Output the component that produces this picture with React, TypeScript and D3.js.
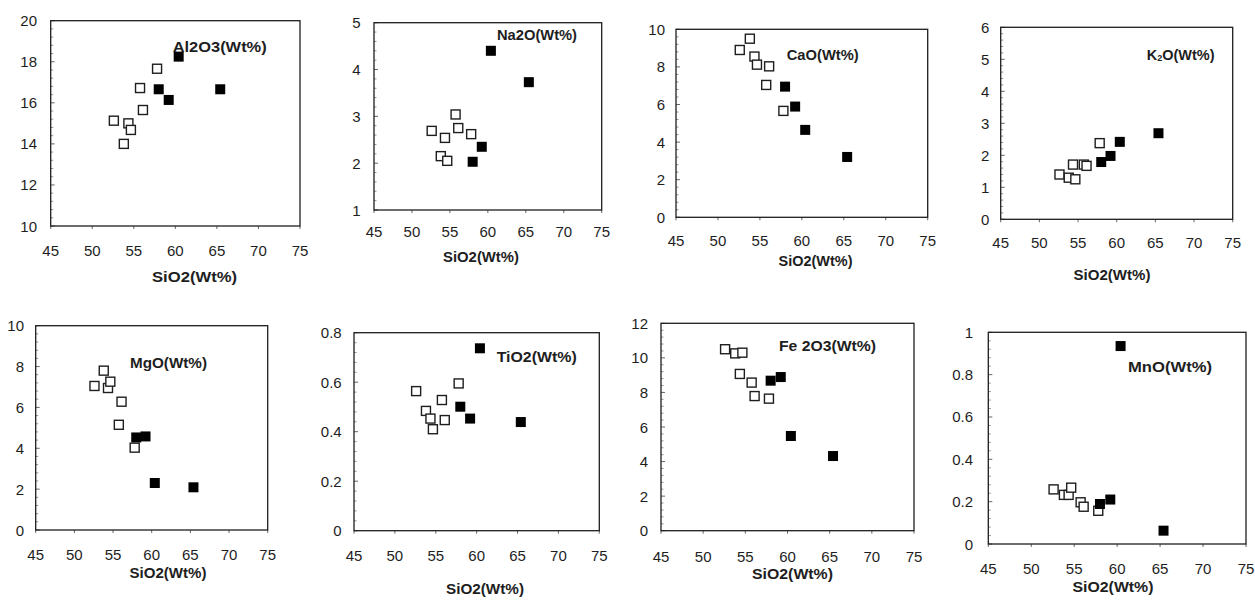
import React from "react";
import * as d3 from "d3";

// SiO2 content of the two sample groups (shared by every panel)
const siO2Open = [52.6, 53.8, 54.35, 54.65, 55.75, 56.1, 57.8];
const siO2Filled = [58.0, 59.2, 60.4, 65.4];

// oxide contents, same order as the SiO2 arrays
const al2o3Open = [15.13, 14.0, 15.0, 14.68, 16.72, 15.65, 17.66];
const al2o3Filled = [16.66, 16.14, 18.25, 16.66];
const na2oOpen = [2.69, 2.15, 2.54, 2.05, 3.04, 2.75, 2.62];
const na2oFilled = [2.03, 2.35, 4.4, 3.73];
const caoOpen = [8.9, 9.5, 8.55, 8.12, 7.04, 8.03, 5.66];
const caoFilled = [6.95, 5.89, 4.65, 3.21];
const k2oOpen = [1.4, 1.3, 1.71, 1.25, 1.71, 1.67, 2.38];
const k2oFilled = [1.79, 1.98, 2.42, 2.69];
const mgoOpen = [7.05, 7.8, 6.95, 7.26, 5.15, 6.28, 4.03];
const mgoFilled = [4.53, 4.58, 2.3, 2.09];
const tio2Open = [0.564, 0.484, 0.453, 0.41, 0.528, 0.447, 0.595];
const tio2Filled = [0.501, 0.453, 0.737, 0.439];
const fe2o3Open = [10.5, 10.26, 9.07, 10.3, 8.57, 7.79, 7.64];
const fe2o3Filled = [8.68, 8.89, 5.48, 4.32];
const mnoOpen = [0.258, 0.232, 0.232, 0.266, 0.197, 0.176, 0.157];
const mnoFilled = [0.189, 0.21, 0.935, 0.063];

const xDomain: [number, number] = [45, 75];
const xTicks = [45, 50, 55, 60, 65, 70, 75];
const xTitle = "SiO2(Wt%)";

interface IPanel {
  label: string;
  open: number[];
  filled: number[];
  yDomain: [number, number];
  yStep: number;
  // layout: box, label anchors, [x, y, width] for the texts
  box: [number, number, number, number];
  yLabelRight: number;
  xLabelY: number;
  title: [number, number, number];
  tag: [number, number, number];
}

const panels: IPanel[] = [
  { label: "Al2O3(Wt%)", open: al2o3Open, filled: al2o3Filled, yDomain: [10, 20], yStep: 2,
    box: [50.7, 20.7, 300, 226], yLabelRight: 37, xLabelY: 250, title: [194.5, 276, 85], tag: [172.7, 46.7, 94] },
  { label: "Na2O(Wt%)", open: na2oOpen, filled: na2oFilled, yDomain: [1, 5], yStep: 1,
    box: [374, 22.7, 601.7, 210], yLabelRight: 360.7, xLabelY: 231.7, title: [481, 256.7, 76], tag: [497, 35, 80] },
  { label: "CaO(Wt%)", open: caoOpen, filled: caoFilled, yDomain: [0, 10], yStep: 2,
    box: [676, 29.3, 927.7, 217.3], yLabelRight: 665, xLabelY: 240, title: [815.5, 260, 74], tag: [786.7, 55, 72] },
  { label: "K2O(Wt%)", open: k2oOpen, filled: k2oFilled, yDomain: [0, 6], yStep: 1,
    box: [1000.7, 27.3, 1232.7, 219.3], yLabelRight: 989.3, xLabelY: 242.7, title: [1112, 274, 77], tag: [1146.7, 55, 69] },
  { label: "MgO(Wt%)", open: mgoOpen, filled: mgoFilled, yDomain: [0, 10], yStep: 2,
    box: [35.7, 325.7, 267.7, 530], yLabelRight: 24, xLabelY: 554, title: [168, 572.7, 77], tag: [130, 362.7, 77] },
  { label: "TiO2(Wt%)", open: tio2Open, filled: tio2Filled, yDomain: [0, 0.8], yStep: 0.2,
    box: [354, 332.7, 599.3, 530.7], yLabelRight: 341.7, xLabelY: 555, title: [485, 588.3, 78], tag: [496.7, 356.7, 80] },
  { label: "Fe 2O3(Wt%)", open: fe2o3Open, filled: fe2o3Filled, yDomain: [0, 12], yStep: 2,
    box: [661, 323.3, 914, 530.7], yLabelRight: 648, xLabelY: 556, title: [792.5, 573, 81], tag: [779, 346, 97] },
  { label: "MnO(Wt%)", open: mnoOpen, filled: mnoFilled, yDomain: [0, 1], yStep: 0.2,
    box: [988.3, 332.3, 1246, 544], yLabelRight: 973, xLabelY: 568.3, title: [1113, 586.7, 81], tag: [1128, 366.7, 84] },
];

const font = "'Liberation Sans', Arial, sans-serif";
const ink = "#1e1e1e";
const fmt = (v: number) => String(+v.toFixed(2));

const Panel = ({ p }: { p: IPanel }) => {
  const [x0, y0, x1, y1] = p.box;
  const xScale = d3.scaleLinear().domain(xDomain).range([x0, x1]);
  const yScale = d3.scaleLinear().domain(p.yDomain).range([y1, y0]);
  const majors = d3.range(p.yDomain[0], p.yDomain[1] + p.yStep / 2, p.yStep);
  const minors = d3
    .range(p.yDomain[0], p.yDomain[1] + p.yStep / 10, p.yStep / 5)
    .filter((v) => majors.every((m) => Math.abs(m - v) > p.yStep / 20));
  const s = 9;

  const tag =
    p.label === "K2O(Wt%)" ? (
      <text x={p.tag[0]} y={p.tag[1]} dominantBaseline="central" fontWeight="bold" fontSize={14.5} fill={ink}>
        K<tspan fontSize={9} dy={3}>2</tspan>
        <tspan dy={-3}>O(Wt%)</tspan>
      </text>
    ) : (
      <text x={p.tag[0]} y={p.tag[1]} dominantBaseline="central" fontWeight="bold" fontSize={14}
        textLength={p.tag[2]} lengthAdjust="spacingAndGlyphs" fill={ink}>
        {p.label}
      </text>
    );

  return (
    <g fontFamily={font}>
      {minors.map((v, i) => (
        <line key={"mi" + i} x1={x0} x2={x0 + 2.5} y1={yScale(v)} y2={yScale(v)} stroke="#777" strokeWidth={0.8} />
      ))}
      {majors.map((v, i) => (
        <line key={"ma" + i} x1={x0} x2={x0 + 4} y1={yScale(v)} y2={yScale(v)} stroke="#555" strokeWidth={0.9} />
      ))}
      {xTicks.map((v, i) => (
        <line key={"xt" + i} x1={xScale(v)} x2={xScale(v)} y1={y1} y2={y1 + 3} stroke="#555" strokeWidth={0.9} />
      ))}
      <rect x={x0} y={y0} width={x1 - x0} height={y1 - y0} fill="none" stroke={ink} strokeWidth={1.3} />
      {majors.map((v, i) => (
        <text key={"yl" + i} x={p.yLabelRight} y={yScale(v)} textAnchor="end" dominantBaseline="central"
          fontSize={15} fill={ink}>
          {fmt(v)}
        </text>
      ))}
      {xTicks.map((v, i) => (
        <text key={"xl" + i} x={xScale(v)} y={p.xLabelY} textAnchor="middle" dominantBaseline="central"
          fontSize={15} fill={ink}>
          {v}
        </text>
      ))}
      {p.open.map((v, i) => (
        <rect key={"o" + i} x={xScale(siO2Open[i]) - s / 2} y={yScale(v) - s / 2} width={s} height={s}
          fill="#fff" stroke={ink} strokeWidth={1.4} />
      ))}
      {p.filled.map((v, i) => (
        <rect key={"f" + i} x={xScale(siO2Filled[i]) - (s + 1) / 2} y={yScale(v) - (s + 1) / 2} width={s + 1}
          height={s + 1} fill="#000" />
      ))}
      <text x={p.title[0]} y={p.title[1]} textAnchor="middle" dominantBaseline="central" fontWeight="bold"
        fontSize={15} textLength={p.title[2]} lengthAdjust="spacingAndGlyphs" fill={ink}>
        {xTitle}
      </text>
      {tag}
    </g>
  );
};

const App = () => (
  <svg width={1255} height={602} style={{ position: "absolute", left: 0, top: 0, background: "#fff" }}>
    <rect width={1255} height={602} fill="#fff" />
    {panels.map((p, i) => (
      <Panel key={i} p={p} />
    ))}
  </svg>
);

export default App;
